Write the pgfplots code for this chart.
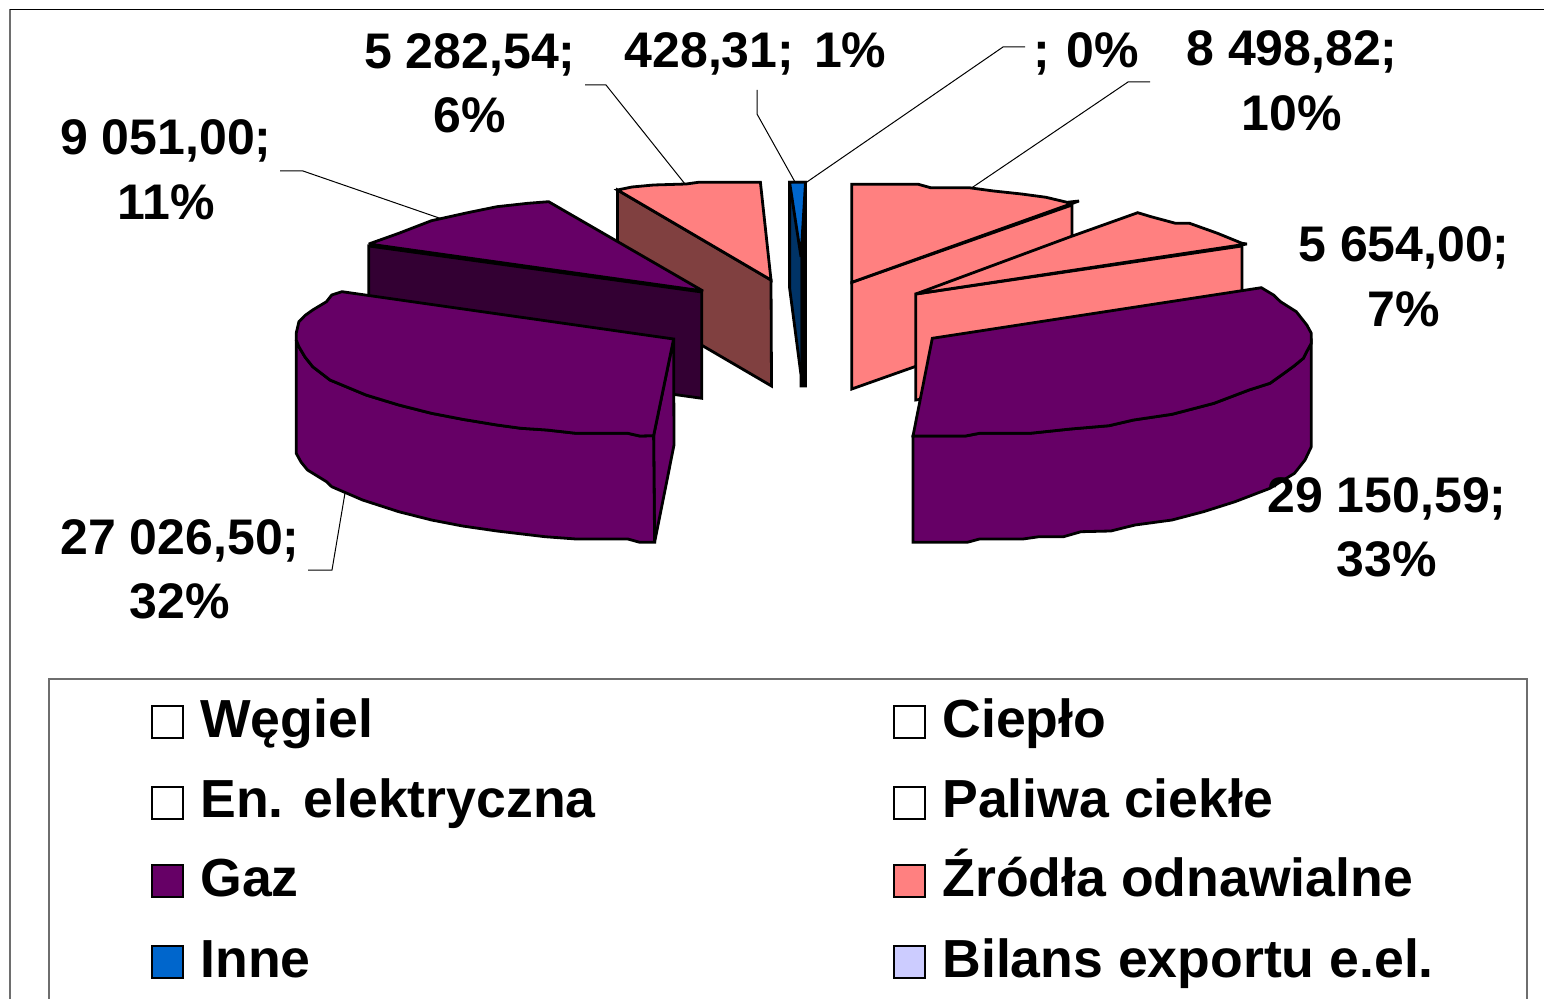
\documentclass[border=0pt]{standalone}
\usepackage{pgfplots}
\pgfplotsset{compat=1.18}
\usepackage{fontspec}
\setmainfont{Liberation Sans}
\definecolor{gaz}{HTML}{660066}
\definecolor{gazd}{HTML}{330033}
\definecolor{oze}{HTML}{FF8080}
\definecolor{ozed}{HTML}{804040}
\definecolor{inne}{HTML}{0066CC}
\definecolor{inned}{HTML}{003366}
\definecolor{bil}{HTML}{CCCCFF}
\definecolor{fr}{HTML}{6E6E6E}
\newcommand{\face}[2]{\addplot[fill=#1,draw=black,line width=1.4bp,line join=miter,miter limit=4,forget plot] coordinates {#2} --cycle;}
\newcommand{\lead}[1]{\addplot[draw=black,line width=0.5bp,forget plot] coordinates {#1};}
\newcommand{\lab}[3]{\node[anchor=base,inner sep=0pt,font=\fontsize{25.1pt}{30pt}\bfseries] at (axis cs:#1,#2) {#3};}
\newcommand{\ltxt}[3]{\node[anchor=base west,inner sep=0pt,font=\fontsize{26.9pt}{30pt}\bfseries] at (axis cs:#1,#2) {#3};}
\begin{document}
\begin{tikzpicture}
\begin{axis}[
  scale only axis, width=772bp, height=499.5bp,
  xmin=0, xmax=1544, ymin=0, ymax=999, y dir=reverse,
  hide axis, clip=true, anchor=south west, at={(0,0)}]
% page
\addplot[fill=white,draw=none,forget plot] coordinates {(0,0) (1544,0) (1544,999) (0,999)} --cycle;
% outer frame
\addplot[draw=fr,line width=0.7bp,forget plot] coordinates {(10,1005) (10,9.5)};
\addplot[draw=black,line width=0.8bp,forget plot] coordinates {(10,9.5) (1550,9.5)};
% legend frame
\addplot[draw=fr,line width=0.6bp,forget plot] coordinates {(49,1005) (49,679) (1527,679) (1527,1005)};
% leader lines
\lead{(280,171) (303,171) (442,219)}
\lead{(585,85) (606,85) (685,184)}
\lead{(757,90) (757,114) (795,182)}
\lead{(1025,47) (1003,47) (804,184)}
\lead{(1150,82) (1128,82) (970,189)}
\lead{(308,570) (332,570) (345,493)}
% renewable, left wedge
\face{ozed}{(617.5,190) (771,280) (771.5,386) (617.5,296)}
\face{oze}{(617.5,190) (632,187) (653.6,185) (686.3,184) (698.4,182.3) (760.4,182.3) (771,280)}
% gas, middle wedge
\face{gazd}{(368.8,246) (701.8,292) (701.8,398.3) (368.8,352)}
\face{gaz}{(368.8,244) (398.8,233.3) (431.5,220.7) (467.7,212.7) (497,206.7) (528,203.3) (548.6,201.7) (703,291)}
% other
\face{inned}{(789.6,182.3) (789.6,288) (801,375) (801,386) (805.5,386) (805.5,182.3)}
\face{inne}{(789.6,182.3) (805.5,182.3) (801,257)}
\addplot[fill=black,draw=black,line width=0.2bp,forget plot] coordinates {(805.5,182.3) (805.5,386) (800.5,386) (800.5,250)} --cycle;
% renewable, right wedges
\face{oze}{(851.8,282.3) (1072,205) (1072,311) (851.8,389)}
\face{oze}{(851.8,184.3) (918.3,184.3) (930.5,187.7) (969,187.7) (993.5,191) (1021.5,194) (1046,197.3) (1067,202.3) (1079,201) (851.8,282.3)}
\face{oze}{(915.8,294) (1242,246) (1242,352) (915.8,400)}
\face{oze}{(915.8,294) (1070.5,236.7) (1137.7,212.7) (1151,216.7) (1175.5,223.3) (1189.5,223.3) (1217.5,233.3) (1242,243.3) (1247,244)}
% gas, big right
\face{gaz}{(913,436) (913,542.3) (967.3,542.3) (979.5,539) (1023,539) (1039,536.7) (1063.5,536.7) (1081,531.7) (1110.8,531) (1135,525) (1172,520) (1203.5,511.7) (1235,501.7) (1270,488.3) (1294.5,473.3) (1305,460) (1311.3,446.7) (1311.3,343.3) (1307,351) (1303.3,358.3) (1294,366) (1284,373.3) (1270,383.3) (1249,390) (1214,403.3) (1172,414.3) (1133.5,420) (1109,425.7) (1070.5,429) (1030,433.3) (979.5,433.3) (965.5,436)}
\face{gaz}{(932.3,338.3) (1261.3,287.7) (1273.5,295) (1280.5,301.7) (1296.3,311.7) (1306.8,325) (1311.3,333.3) (1311.3,343.3) (1307,351) (1303.3,358.3) (1294,366) (1284,373.3) (1270,383.3) (1249,390) (1214,403.3) (1172,414.3) (1133.5,420) (1109,425.7) (1070.5,429) (1030,433.3) (979.5,433.3) (965.5,436) (913,436)}
% gas, big left
\face{gaz}{(673.6,339) (674,445) (654.6,542.3) (653.6,435.7)}
\face{gaz}{(296.2,340) (296.2,453.3) (301,462) (307.5,470) (326.5,481.7) (331.7,486.7) (362.6,500) (398.8,511.7) (431.5,520) (462.5,526) (497,531) (545,536.7) (576,539) (627.8,539) (639.8,542.3) (654.6,542.3) (653.6,435.7) (639.8,436) (627.8,433.3) (576.1,433.3) (546.9,430) (521,428.3) (497,425) (462.5,419.3) (431.5,413.3) (398.8,405) (366,395) (330,380) (312.7,366.7) (305,357) (298.9,346.7)}
\face{gaz}{(342,291.7) (673.6,339) (653.6,435.7) (639.8,436) (627.8,433.3) (576.1,433.3) (546.9,430) (521,428.3) (497,425) (462.5,419.3) (431.5,413.3) (398.8,405) (366,395) (330,380) (312.7,366.7) (305,357) (298.9,346.7) (296.2,340) (296.2,333.3) (298.9,321.7) (305,315.5) (312.7,310) (326.5,301.7) (331.7,295)}
% data labels
\lab{470}{68.5}{5 282,54;}
\lab{470}{133}{6\%}
\lab{755.5}{67.5}{428,31;\hspace{3pt} 1\%}
\lab{1086}{67.5}{;\hspace{1.5pt} 0\%}
\lab{1292}{66}{8 498,82;}
\lab{1292}{131}{10\%}
\lab{166}{155}{9 051,00;}
\lab{166}{220}{11\%}
\lab{1404}{262}{5 654,00;}
\lab{1404}{326.5}{7\%}
\lab{1387}{512}{29 150,59;}
\lab{1387}{576}{33\%}
\lab{180}{554}{27 026,50;}
\lab{180}{618}{32\%}
% legend keys
\face{white}{(152,706) (183,706) (183,738) (152,738)}
\face{white}{(152,787) (183,787) (183,819) (152,819)}
\face{gaz}{(152,865) (183,865) (183,897) (152,897)}
\face{inne}{(152,946) (183,946) (183,978) (152,978)}
\face{white}{(894,706) (925,706) (925,738) (894,738)}
\face{white}{(894,787) (925,787) (925,819) (894,819)}
\face{oze}{(894,865) (925,865) (925,897) (894,897)}
\face{bil}{(894,946) (925,946) (925,978) (894,978)}
% legend labels
\ltxt{200}{737.5}{Węgiel}
\ltxt{200}{817.5}{En. elektryczna}
\ltxt{200}{896.5}{Gaz}
\ltxt{200}{977}{Inne}
\ltxt{942}{737.5}{Ciepło}
\ltxt{942}{817.5}{Paliwa ciekłe}
\ltxt{942}{896.5}{Źródła odnawialne}
\ltxt{942}{977}{Bilans exportu e.el.}
\end{axis}
\end{tikzpicture}
\end{document}
